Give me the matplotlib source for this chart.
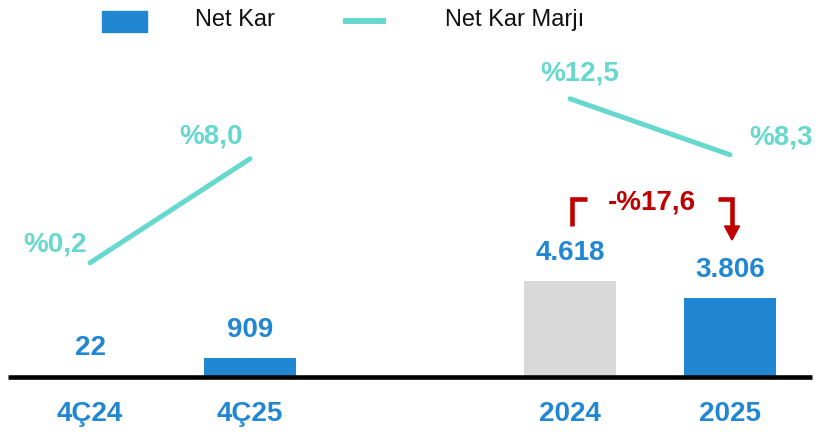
import matplotlib
matplotlib.use("Agg")
import matplotlib.pyplot as plt
from matplotlib.patches import Rectangle, Polygon

# data
categories = ["4Ç24", "4Ç25", "2024", "2025"]
x_pos = [0, 1, 3, 4]
net_kar = [22, 909, 4618, 3806]
net_kar_labels = ["22", "909", "4.618", "3.806"]
marj = [0.2, 8.0, 12.5, 8.3]
marj_labels = ["%0,2", "%8,0", "%12,5", "%8,3"]
change_label = "-%17,6"

BLUE = "#2187D3"
GREY = "#D9D9D9"
TEAL = "#66D8CE"
RED = "#C00000"

plt.rcParams['font.family'] = ['Liberation Sans', 'DejaVu Sans']

W, H = 819, 435
fig = plt.figure(figsize=(W / 100, H / 100), dpi=100)

# bar axis, pixel mapping: x px = 90 + 160*x, bars zero at 57.5 px from bottom
ax = fig.add_axes([0, 0, 1, 1])
ax.set_xlim(-90 / 160, (W - 90) / 160)
bar_scale = 95.5 / 4618
ax.set_ylim(-57.5 / bar_scale, (H - 57.5) / bar_scale)
ax.axis("off")

bar_colors = [BLUE, BLUE, GREY, BLUE]
ax.bar(x_pos, net_kar, width=0.575, color=bar_colors, zorder=2)
ax.plot([-0.5125, 4.5125], [0, 0], color="black", lw=3.3, zorder=3,
        solid_capstyle="butt")

for x, v, lab in zip(x_pos, net_kar, net_kar_labels):
    ax.annotate(lab, (x, v), xytext=(0, 21), textcoords="offset points",
                ha="center", va="center", fontsize=20, fontweight="bold",
                color=BLUE)

for x, cat in zip(x_pos, categories):
    ax.annotate(cat, (x, 0), xytext=(0, -26.5), textcoords="offset points",
                ha="center", va="center", fontsize=20, fontweight="bold",
                color=BLUE)

# margin line on its own scale
ax2 = ax.twinx()
marj_scale = 13.34
ax2.set_ylim(-168.5 / marj_scale, (H - 168.5) / marj_scale)
ax2.axis("off")
ax2.plot(x_pos[:2], marj[:2], color=TEAL, lw=3.6, solid_capstyle="round")
ax2.plot(x_pos[2:], marj[2:], color=TEAL, lw=3.6, solid_capstyle="round")

label_offsets = [(-25, 14), (-28, 17), (7, 19), (37, 13.5)]
for x, v, lab, off in zip(x_pos, marj, marj_labels, label_offsets):
    ax2.annotate(lab, (x, v), xytext=off, textcoords="offset points",
                 ha="center", va="center", fontsize=20, fontweight="bold",
                 color=TEAL)

# overlay in pixel coords for legend and change bracket
ov = fig.add_axes([0, 0, 1, 1])
ov.set_xlim(0, W)
ov.set_ylim(H, 0)
ov.axis("off")
ov.patch.set_alpha(0)

ov.add_patch(Rectangle((102, 12), 45, 21, color=BLUE))
ov.text(195, 20, "Net Kar", fontsize=17, va="center", ha="left", color="#111111")
ov.plot([343, 386], [22, 22], color=TEAL, lw=4.3, solid_capstyle="butt")
ov.text(445, 20, "Net Kar Marjı", fontsize=17, va="center", ha="left",
        color="#111111")

ov.plot([572, 572, 587], [227, 200, 200], color=RED, lw=3.3,
        solid_joinstyle="miter", solid_capstyle="butt")
ov.plot([718, 732, 732], [200, 200, 229], color=RED, lw=3.3,
        solid_joinstyle="miter", solid_capstyle="butt")
ov.add_patch(Polygon([(724.5, 227), (739.5, 227), (732, 241)], color=RED))
ov.text(652, 202.5, change_label, fontsize=20, fontweight="bold", color=RED,
        ha="center", va="center")

fig.savefig("out.png", dpi=100)
